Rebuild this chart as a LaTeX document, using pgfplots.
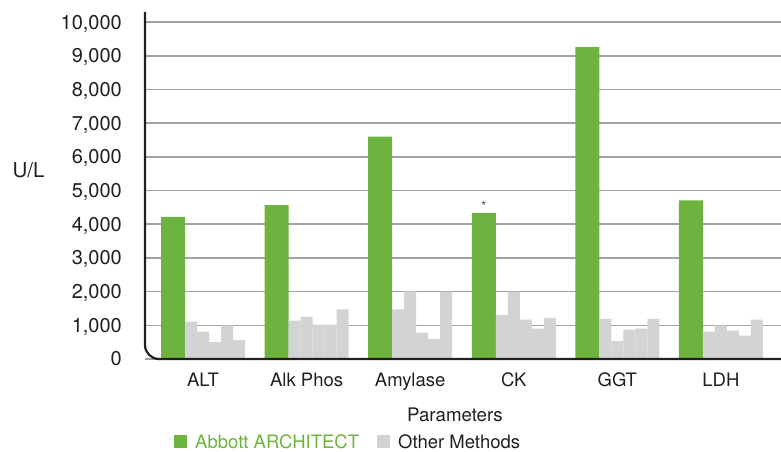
\documentclass[border=0pt]{standalone}
\usepackage{fontspec}
\setmainfont{TeX Gyre Heros}
\usepackage{pgfplots}
\pgfplotsset{compat=1.18}
\definecolor{archgreen}{HTML}{6DB33F}
\definecolor{othgrey}{HTML}{D1D3D4}
\definecolor{gridgrey}{HTML}{A0A2A5}
\definecolor{txt}{HTML}{231F20}
\begin{document}
\begin{tikzpicture}[x=1bp,y=1bp]
\path[use as bounding box] (0,0) rectangle (781,452);
\begin{axis}[
  at={(145bp,93bp)}, anchor=south west,
  scale only axis, width=636bp, height=347bp,
  xmin=-0.56, xmax=5.58, ymin=0, ymax=10300,
  clip=false,
  axis line style={draw=none},
  major tick length=0pt,
  tick style={draw=none},
  ytick={0,1000,...,10000},
  scaled y ticks=false,
  /pgf/number format/1000 sep={,},
  /pgf/number format/assume math mode=true,
  yticklabel style={anchor=base east, inner sep=0pt, xshift=-23bp, yshift=-7bp,
    font=\fontsize{20bp}{23bp}\selectfont, text=txt},
  xtick={0,...,5},
  xticklabels={ALT, Alk Phos, Amylase, CK, GGT, LDH},
  xticklabel style={anchor=base, inner sep=0pt, yshift=-28bp,
    font=\fontsize{18.5bp}{21bp}\selectfont, text=txt},
  ymajorgrids,
  grid style={gridgrey, line width=1.5bp},
  xlabel={Parameters},
  xlabel style={at={(axis description cs:0.4874,-0.1787)}, anchor=base, inner sep=0pt,
    font=\fontsize{18.7bp}{21bp}\selectfont, text=txt},
  ylabel={U/L},
  every axis y label/.style={at={(axis description cs:-0.1832,0.5216)}, anchor=base, inner sep=0pt,
    font=\fontsize{20.5bp}{23bp}\selectfont, text=txt},
  legend columns=2,
  legend style={at={(axis description cs:0.0456,-0.238)}, anchor=west, draw=none, fill=none,
    inner sep=0pt, font=\fontsize{18.5bp}{21bp}\selectfont, text=txt,
    nodes={inner xsep=8bp, inner ysep=0pt, text depth=0pt},
    /tikz/every even column/.append style={column sep=10bp}},
]
\addplot[ybar, fill=archgreen, draw=none, bar width=24bp, bar shift=-30bp,
  legend image code/.code={\fill[archgreen] (0bp,-6.5bp) rectangle (13bp,6.5bp);}]
  coordinates {(0,4220) (1,4570) (2,6600) (3,4340) (4,9260) (5,4710)};
\addlegendentry{\textcolor{archgreen}{Abbott ARCHITECT}}
\addplot[ybar, fill=othgrey, draw=none, bar width=12bp, bar shift=-12bp,
  legend image code/.code={\fill[othgrey] (0bp,-6.5bp) rectangle (13bp,6.5bp);}]
  coordinates {(0,1110) (1,1140) (2,1470) (3,1300) (4,1190) (5,810)};
\addlegendentry{Other Methods}
\addplot[ybar, fill=othgrey, draw=none, bar width=12bp, bar shift=0bp, forget plot]
  coordinates {(0,810) (1,1250) (2,2010) (3,2000) (4,530) (5,1000)};
\addplot[ybar, fill=othgrey, draw=none, bar width=12bp, bar shift=12bp, forget plot]
  coordinates {(0,500) (1,1020) (2,780) (3,1170) (4,870) (5,840)};
\addplot[ybar, fill=othgrey, draw=none, bar width=12bp, bar shift=24bp, forget plot]
  coordinates {(0,1000) (1,1020) (2,590) (3,900) (4,900) (5,690)};
\addplot[ybar, fill=othgrey, draw=none, bar width=12bp, bar shift=36bp, forget plot]
  coordinates {(0,560) (1,1470) (2,2000) (3,1220) (4,1190) (5,1170)};
\node[anchor=base, inner sep=0pt, xshift=-30bp, yshift=1bp, text=txt!75,
  font=\fontsize{14bp}{16bp}\selectfont] at (axis cs:3,4340) {*};
\draw[txt, line width=2.2bp, rounded corners=14bp]
  (rel axis cs:0,1) -- (rel axis cs:0,0) -- (rel axis cs:1,0);
\end{axis}
\end{tikzpicture}
\end{document}
